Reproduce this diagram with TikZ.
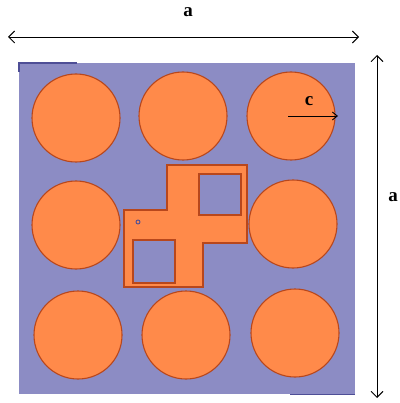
\documentclass[tikz,border=0pt]{standalone}
\usepackage{fontspec}
\setmainfont{Liberation Serif}
\usetikzlibrary{arrows.meta}
\definecolor{plate}{HTML}{8C8CC4}
\definecolor{plateedge}{HTML}{4E4E96}
\definecolor{fiber}{HTML}{FF8A4A}
\definecolor{fiberedge}{HTML}{B8471C}
\tikzset{
  fib/.style={fill=fiber, draw=fiberedge, line width=1.1pt},
  dim/.style={draw=black, line width=0.9pt, {Straight Barb[length=6pt,width=12pt]}-{Straight Barb[length=6pt,width=12pt]}},
  lbl/.style={font=\fontsize{19}{22}\selectfont\bfseries, inner sep=0pt},
}
\begin{document}
\begin{tikzpicture}[x=1pt,y=-1pt]
\useasboundingbox (0,0) rectangle (399,403);
% plate
\fill[plate] (19,63) rectangle (355,394);
\draw[plateedge, line width=1.2pt] (19,72) -- (19,63) -- (77,63);
\draw[plateedge, line width=0.8pt] (290,394) -- (355,394);
% fibres
\foreach \cx/\cy/\n in {76/118/c1,183/116/c2,291/116/c3,76/225/c4,293/224/c6,78/335/c7,186/335/c8,295/333/c9}
  \node[fib, circle, minimum size=88pt, inner sep=0pt] (\n) at (\cx,\cy) {};
% cross-shaped fibre with holes
\fill[fiber] (167,165) -- (247,165) -- (247,243) -- (203,243) -- (203,287) -- (124,287) -- (124,210) -- (167,210) -- cycle;
\fill[plate] (199,174) rectangle (241,215);
\fill[plate] (133,240) rectangle (175,283);
\draw[fiberedge, line width=1.1pt] (167,165) -- (247,165) -- (247,243) -- (203,243) -- (203,287) -- (124,287) -- (124,210) -- (167,210) -- cycle;
\draw[fiberedge, line width=1.1pt] (199,174) rectangle (241,215);
\draw[fiberedge, line width=1.1pt] (133,240) rectangle (175,283);
\draw[plateedge, line width=0.9pt] (138,222) circle (2);
% radius c
\coordinate (rend) at (338,116);
\draw[black, line width=0.9pt, -{Straight Barb[length=5pt,width=8pt]}] (c3.center) ++(-3,0) coordinate (rstart) -- (rend);
\node[lbl] (lc) at (309,101) {c};
% dimension a (top)
\coordinate (t1) at (8,37);
\coordinate (t2) at (359,37);
\draw[dim] (t1) -- (t2);
\node[lbl] (la1) at (188,12) {a};
% dimension a (right)
\coordinate (r1) at (377,55);
\coordinate (r2) at (377,398);
\draw[dim] (r1) -- (r2);
\node[lbl] (la2) at (393,197) {a};
\end{tikzpicture}
\end{document}
